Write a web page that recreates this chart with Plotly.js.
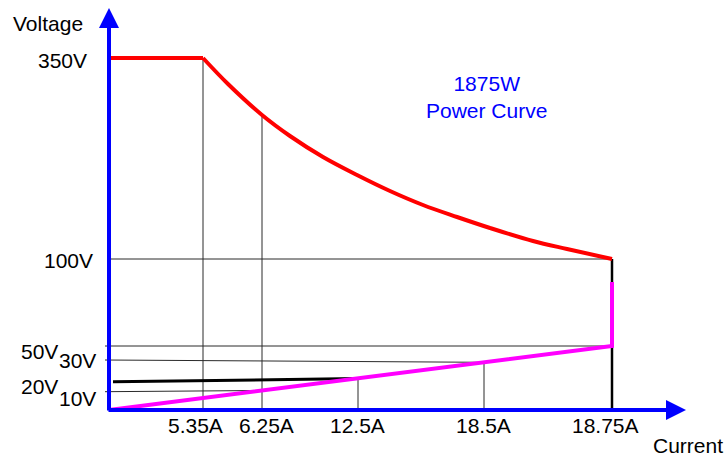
<!DOCTYPE html>
<html>
<head>
<meta charset="utf-8">
<script src="https://cdn.plot.ly/plotly-3.0.1.min.js"></script>
<style>html,body{margin:0;padding:0;background:#fff;}#chart{width:727px;height:457px;}</style>
</head>
<body>
<div id="chart"></div>
<script>
// Schematic chart: positions are in drawing units measured from the origin of the axes.
const currentLabels = ['5.35A', '6.25A', '12.5A', '18.5A', '18.75A'];
const currentPos = [94, 153, 249, 375, 503];
const voltageLabels = ['350V', '100V', '50V', '30V', '20V', '10V'];
const voltagePos = [352, 151, 64, 50, 28, 18];

// 1875W constant-power curve (red): flat at 350V then hyperbola down to 100V
const flatX = [0, 94];
const flatY = [352, 352];
const curveX = [94, 119, 153, 181, 214, 248, 281, 314, 348, 381, 424, 458, 503];
const curveY = [352, 326, 295, 274, 253, 235, 219, 205, 193, 182, 169, 161, 151];

// minimum voltage line (magenta)
const minX = [0, 503, 503];
const minY = [0, 64, 128];

// 20V black line
const lowX = [4, 249];
const lowY = [28.3, 31.4];

// guide lines
const guide100X = [-2, 503], guide100Y = [151, 151];
const guide50X = [-4, 503], guide50Y = [64, 64];
const guide30X = [-4, 375], guide30Y = [50, 47.7];
const guide10X = [-4, 153], guide10Y = [18.3, 19.5];
const vertTop = [352, 295, 31.4, 47.7]; // tops of vertical guides at first four currents
const endX = [503, 503], endY = [151, 0];

// label offsets (style)
const yLabDx = [-20, -14, -49, -11, -49, -11];
const yLabDy = [-2, -1.5, -5.5, -0.5, -4, -6];
const xLabDx = [-7.5, 4, -0.5, -0.5, -7];
const xLabY = -15.5;

const thin = {color: '#2a2a2a', width: 1};
function line(x, y, l, shape) {
  return {x: x, y: y, mode: 'lines', line: Object.assign({}, l, shape ? {shape: shape, smoothing: 1} : {}), hoverinfo: 'skip', showlegend: false};
}

const traces = [
  line(guide100X, guide100Y, thin),
  line(guide50X, guide50Y, thin),
  line(guide30X, guide30Y, thin),
  line(guide10X, guide10Y, thin),
];
for (let i = 0; i < vertTop.length; i++) {
  traces.push(line([currentPos[i], currentPos[i]], [vertTop[i], 0], thin));
}
traces.push(line(endX, endY, {color: '#000', width: 2.5}));
traces.push(line(lowX, lowY, {color: '#000', width: 3}));
traces.push(line(minX, minY, {color: '#ff00ff', width: 4}));
traces.push(line(flatX, flatY, {color: '#ff0000', width: 4}));
traces.push(line(curveX, curveY, {color: '#ff0000', width: 4}, 'spline'));

const font = {family: 'Liberation Sans, Arial, sans-serif', size: 21, color: '#000'};
const annotations = [];
// axes with arrows
annotations.push({x: 0, y: 402, ax: 0, ay: -2, xref: 'x', yref: 'y', axref: 'x', ayref: 'y', text: '', showarrow: true,
  arrowhead: 2, arrowsize: 1, arrowwidth: 4, arrowcolor: '#0000ff'});
annotations.push({x: 577, y: 0, ax: -2, ay: 0, xref: 'x', yref: 'y', axref: 'x', ayref: 'y', text: '', showarrow: true,
  arrowhead: 2, arrowsize: 1, arrowwidth: 4, arrowcolor: '#0000ff'});
for (let i = 0; i < voltageLabels.length; i++) {
  annotations.push({x: yLabDx[i], y: voltagePos[i] + yLabDy[i], xref: 'x', yref: 'y', text: voltageLabels[i],
    showarrow: false, xanchor: 'right', yanchor: 'middle', font: font});
}
for (let i = 0; i < currentLabels.length; i++) {
  annotations.push({x: currentPos[i] + xLabDx[i], y: xLabY, xref: 'x', yref: 'y', text: currentLabels[i],
    showarrow: false, xanchor: 'center', yanchor: 'middle', font: font});
}
annotations.push({x: -61, y: 387, xref: 'x', yref: 'y', text: 'Voltage', showarrow: false, xanchor: 'center', yanchor: 'middle', font: font});
annotations.push({x: 578.5, y: -35.5, xref: 'x', yref: 'y', text: 'Current', showarrow: false, xanchor: 'center', yanchor: 'middle', font: font});
annotations.push({x: 377, y: 313, xref: 'x', yref: 'y', text: '1875W<br>Power Curve', showarrow: false, xanchor: 'center', yanchor: 'middle',
  font: {family: font.family, size: 21, color: '#0000ff'}});

const hidden = {showgrid: false, zeroline: false, showline: false, showticklabels: false, ticks: '', fixedrange: true};
const layout = {
  width: 727, height: 457,
  margin: {l: 0, r: 0, t: 0, b: 0},
  paper_bgcolor: '#fff', plot_bgcolor: '#fff',
  xaxis: Object.assign({range: [-109, 618]}, hidden),
  yaxis: Object.assign({range: [-47, 410]}, hidden),
  annotations: annotations,
  showlegend: false
};
Plotly.newPlot('chart', traces, layout, {staticPlot: true, displayModeBar: false});
</script>
</body>
</html>
